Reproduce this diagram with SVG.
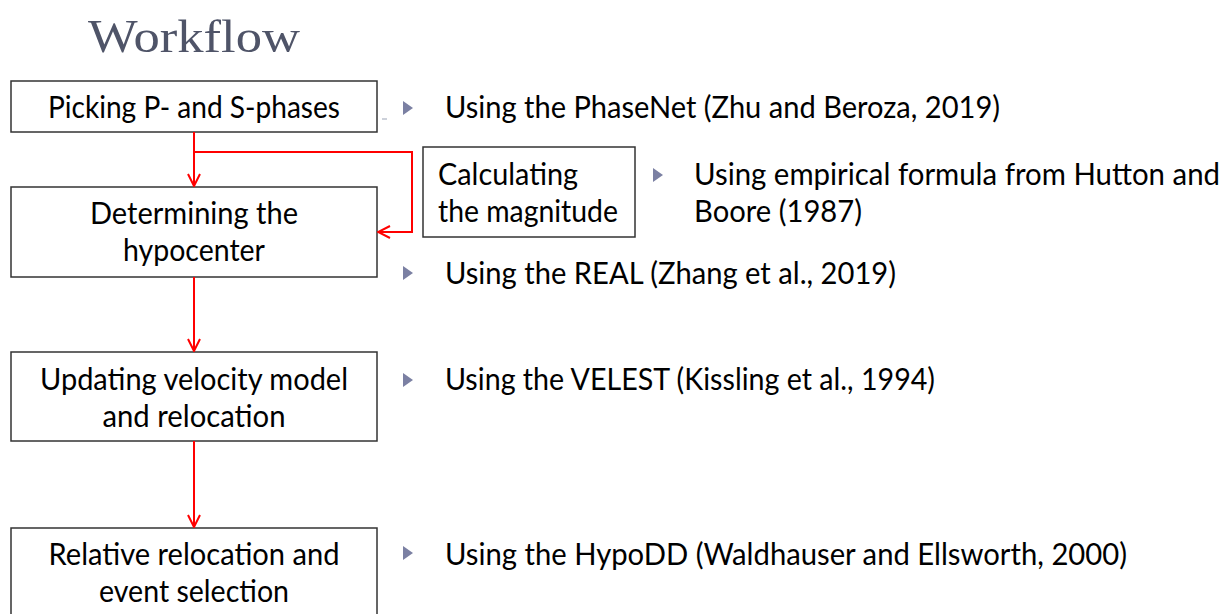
<svg xmlns="http://www.w3.org/2000/svg" width="1232" height="614" viewBox="0 0 1232 614">
<style>
.box{fill:#fff;stroke:#333;stroke-width:1.5}
.t{font-family:Lato,"Open Sans","Liberation Sans",sans-serif;font-size:30px;fill:#000}
.c{text-anchor:middle}
.title{font-family:"Liberation Serif","DejaVu Serif",serif;font-size:46px;fill:#4f5468}
.bul{fill:#7b80a3}
.con{fill:none;stroke:#ff0000;stroke-width:2}
</style>
<defs>
<marker id="ah" viewBox="0 0 14 14" refX="13" refY="7" markerWidth="14" markerHeight="14" markerUnits="userSpaceOnUse" orient="auto">
<path d="M1,1 L13,7 L1,13" fill="none" stroke="#ff0000" stroke-width="2"/>
</marker>
</defs>
<rect width="1232" height="614" fill="#fff"/>
<text class="title" x="88" y="52" textLength="212" lengthAdjust="spacingAndGlyphs">Workflow</text>

<g id="n1"><rect class="box" x="11" y="81" width="366" height="51"/>
<text class="t c" x="194" y="118" textLength="292" lengthAdjust="spacingAndGlyphs">Picking P- and S-phases</text></g>
<g id="n2"><rect class="box" x="11" y="187" width="366" height="90"/>
<text class="t c" x="194" y="224" textLength="208" lengthAdjust="spacingAndGlyphs">Determining the</text>
<text class="t c" x="194" y="261" textLength="142" lengthAdjust="spacingAndGlyphs">hypocenter</text></g>
<g id="n3"><rect class="box" x="423" y="147" width="212" height="90"/>
<text class="t" x="438" y="185" textLength="140" lengthAdjust="spacingAndGlyphs">Calculating</text>
<text class="t" x="438" y="222" textLength="180" lengthAdjust="spacingAndGlyphs">the magnitude</text></g>
<g id="n4"><rect class="box" x="11" y="352" width="366" height="89"/>
<text class="t c" x="194" y="390" textLength="308" lengthAdjust="spacingAndGlyphs">Updating velocity model</text>
<text class="t c" x="194" y="427" textLength="183" lengthAdjust="spacingAndGlyphs">and relocation</text></g>
<g id="n5"><rect class="box" x="11" y="528" width="366" height="100"/>
<text class="t c" x="194" y="565" textLength="291" lengthAdjust="spacingAndGlyphs">Relative relocation and</text>
<text class="t c" x="194" y="602" textLength="190" lengthAdjust="spacingAndGlyphs">event selection</text></g>

<g id="connectors">
<line class="con" x1="194" y1="132" x2="194" y2="186" marker-end="url(#ah)"/>
<polyline class="con" points="194,152 412,152 412,232 378,232" marker-end="url(#ah)"/>
<line class="con" x1="194" y1="277" x2="194" y2="351" marker-end="url(#ah)"/>
<line class="con" x1="194" y1="441" x2="194" y2="527" marker-end="url(#ah)"/>
</g>

<g id="notes">
<line x1="382" y1="119" x2="387" y2="119" stroke="#9aa3b5" stroke-width="1"/>
<path class="bul" d="M403,101 L413,108 L403,115 Z"/>
<text class="t" x="445" y="118" textLength="555" lengthAdjust="spacingAndGlyphs">Using the PhaseNet (Zhu and Beroza, 2019)</text>
<path class="bul" d="M653,168 L663,175 L653,182 Z"/>
<text class="t" x="694" y="185" textLength="526" lengthAdjust="spacingAndGlyphs">Using empirical formula from Hutton and</text>
<text class="t" x="694" y="222" textLength="168" lengthAdjust="spacingAndGlyphs">Boore (1987)</text>
<path class="bul" d="M403,266 L413,273 L403,280 Z"/>
<text class="t" x="445" y="284" textLength="451" lengthAdjust="spacingAndGlyphs">Using the REAL (Zhang et al., 2019)</text>
<path class="bul" d="M403,373 L413,380 L403,387 Z"/>
<text class="t" x="445" y="390" textLength="490" lengthAdjust="spacingAndGlyphs">Using the VELEST (Kissling et al., 1994)</text>
<path class="bul" d="M403,546 L413,553 L403,560 Z"/>
<text class="t" x="445" y="565" textLength="682" lengthAdjust="spacingAndGlyphs">Using the HypoDD (Waldhauser and Ellsworth, 2000)</text>
</g>
</svg>
